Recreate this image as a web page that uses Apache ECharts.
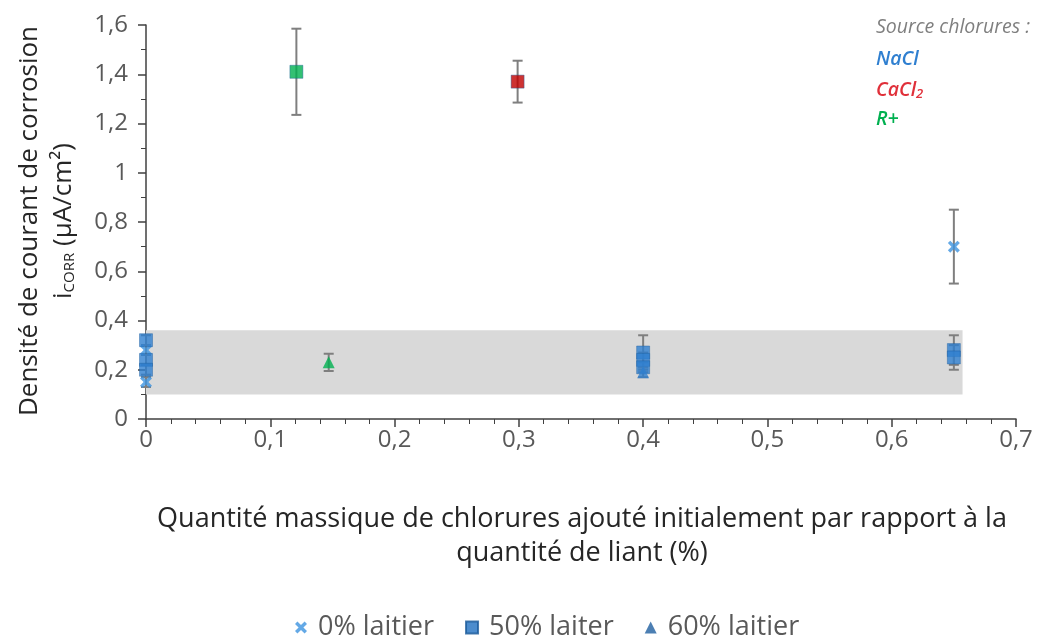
<!DOCTYPE html>
<html>
<head>
<meta charset="utf-8">
<script src="https://cdn.jsdelivr.net/npm/echarts@6/dist/echarts.min.js"></script>
<style>
  html, body { margin: 0; padding: 0; background: #fff; }
  #chart { width: 1037px; height: 644px; }
</style>
</head>
<body>
<div id="chart"></div>
<script>
// 0% laitier (cross)
const slag0X = [0, 0, 0.65];
const slag0Y = [0.28, 0.15, 0.70];
const slag0Err = [0.02, 0.02, 0.15];
const slag0Src = ['NaCl', 'NaCl', 'NaCl'];

// 50% laiter (square)
const slag50X = [0, 0, 0, 0.121, 0.299, 0.4, 0.4, 0.4, 0.65, 0.65];
const slag50Y = [0.32, 0.24, 0.20, 1.41, 1.37, 0.27, 0.24, 0.21, 0.28, 0.25];
const slag50Err = [0.02, 0.02, 0.02, 0.175, 0.085, 0.07, 0.03, 0.02, 0.06, 0.05];
const slag50Src = ['NaCl', 'NaCl', 'NaCl', 'R+', 'CaCl2', 'NaCl', 'NaCl', 'NaCl', 'NaCl', 'NaCl'];

// 60% laitier (triangle)
const slag60X = [0.147, 0.4];
const slag60Y = [0.23, 0.19];
const slag60Err = [0.035, 0.02];
const slag60Src = ['R+', 'NaCl'];

// shaded zone
const bandX = [0, 0.657];
const bandY = [0.1, 0.36];

const xTicks = [0, 0.1, 0.2, 0.3, 0.4, 0.5, 0.6, 0.7];
const yTicks = [0, 0.2, 0.4, 0.6, 0.8, 1, 1.2, 1.4, 1.6];

const srcColor = {NaCl: '#2f7fd0', CaCl2: '#c00000', 'R+': '#00b050'};
const crossPath = 'path://M2,0 L5,3 L8,0 L10,2 L7,5 L10,8 L8,10 L5,7 L2,10 L0,8 L3,5 L0,2 Z';
const fontFamily = '"Open Sans", sans-serif';

function points(xs, ys, srcs, lightBlue) {
    return xs.map((x, i) => ({
        value: [x, ys[i]],
        itemStyle: {
            color: srcs[i] === 'NaCl' && lightBlue ? '#3d93e0' : srcColor[srcs[i]],
        },
    }));
}

function errors(xs, ys, errs) {
    return xs.map((x, i) => [x, ys[i] - errs[i], ys[i] + errs[i]]);
}

const errData = [].concat(
    errors(slag0X, slag0Y, slag0Err),
    errors(slag50X, slag50Y, slag50Err),
    errors(slag60X, slag60Y, slag60Err)
);

function renderError(params, api) {
    const x = api.value(0);
    const top = api.coord([x, api.value(2)]);
    const bot = api.coord([x, api.value(1)]);
    const w = 5;
    const style = {stroke: '#7f7f7f', lineWidth: 2};
    return {
        type: 'group',
        children: [
            {type: 'line', shape: {x1: top[0], y1: top[1], x2: bot[0], y2: bot[1]}, style: style},
            {type: 'line', shape: {x1: top[0] - w, y1: top[1], x2: top[0] + w, y2: top[1]}, style: style},
            {type: 'line', shape: {x1: bot[0] - w, y1: bot[1], x2: bot[0] + w, y2: bot[1]}, style: style},
        ],
    };
}

const fmt = (v) => String(Math.round(v * 10) / 10).replace('.', ',');

const chart = echarts.init(document.getElementById('chart'));
chart.setOption({
    animation: false,
    textStyle: {fontFamily: fontFamily},
    grid: {left: 146, right: 21, top: 25, bottom: 225},
    xAxis: {
        type: 'value',
        min: xTicks[0],
        max: xTicks[xTicks.length - 1],
        interval: 0.1,
        axisLine: {lineStyle: {color: '#404040', width: 1.5}},
        axisTick: {length: 8, lineStyle: {color: '#404040', width: 1.5}},
        minorTick: {show: true, splitNumber: 5, length: 5, lineStyle: {color: '#404040'}},
        splitLine: {show: false},
        axisLabel: {color: '#595959', fontSize: 24, margin: 9, formatter: fmt},
    },
    yAxis: {
        type: 'value',
        min: yTicks[0],
        max: yTicks[yTicks.length - 1],
        interval: 0.2,
        axisLine: {show: true, lineStyle: {color: '#404040', width: 1.5}},
        axisTick: {show: true, length: 8, lineStyle: {color: '#404040', width: 1.5}},
        minorTick: {show: true, splitNumber: 2, length: 5, lineStyle: {color: '#404040'}},
        splitLine: {show: false},
        axisLabel: {color: '#595959', fontSize: 24, margin: 18, formatter: fmt},
    },
    legend: {
        bottom: -2,
        left: 290,
        itemGap: 31,
        itemWidth: 12,
        itemHeight: 12,
        textStyle: {color: '#595959', fontSize: 27, padding: [0, 0, 0, 6]},
        data: ['0% laitier', '50% laiter', '60% laitier'],
    },
    graphic: [
        {
            type: 'text',
            x: 30, y: 221, rotation: Math.PI / 2,
            style: {
                text: 'Densité de courant de corrosion',
                fill: '#262626', font: '26px ' + fontFamily,
                align: 'center', verticalAlign: 'middle',
            },
        },
        {
            type: 'text',
            x: 64, y: 221, rotation: Math.PI / 2,
            style: {
                text: '{b|i}{s|CORR}{b| (µA/cm²)}',
                fill: '#262626',
                align: 'center', verticalAlign: 'middle',
                rich: {
                    b: {fontSize: 26, fontFamily: fontFamily, fill: '#262626', lineHeight: 32},
                    s: {fontSize: 15, fontFamily: fontFamily, fill: '#262626', lineHeight: 32, padding: [12, 0, 0, 0]},
                },
            },
        },
        {
            type: 'text',
            x: 582, y: 502,
            style: {
                text: 'Quantité massique de chlorures ajouté initialement par rapport à la\nquantité de liant (%)',
                fill: '#262626', font: '27px ' + fontFamily,
                align: 'center', lineHeight: 34,
            },
        },
        {
            type: 'text', x: 876, y: 27,
            style: {text: 'Source chlorures :', fill: '#7f7f7f', font: 'italic 19.5px ' + fontFamily, verticalAlign: 'middle'},
        },
        {
            type: 'text', x: 876, y: 59,
            style: {text: 'NaCl', fill: '#2f7fd0', font: 'italic 600 19.5px ' + fontFamily, verticalAlign: 'middle'},
        },
        {
            type: 'text', x: 876, y: 90,
            style: {
                text: '{a|CaCl}{s|2}',
                verticalAlign: 'middle',
                rich: {
                    a: {fill: '#e0303a', fontStyle: 'italic', fontWeight: 600, fontSize: 19.5, fontFamily: fontFamily, lineHeight: 26},
                    s: {fill: '#e0303a', fontStyle: 'italic', fontWeight: 600, fontSize: 13, fontFamily: fontFamily, lineHeight: 26, padding: [9, 0, 0, 0]},
                },
            },
        },
        {
            type: 'text', x: 876, y: 119,
            style: {text: 'R+', fill: '#00b050', font: 'italic 600 19.5px ' + fontFamily, verticalAlign: 'middle'},
        },
    ],
    series: [
        {
            type: 'custom',
            name: 'errors',
            renderItem: renderError,
            data: errData,
            z: 3,
            encode: {x: 0, y: [1, 2]},
            silent: true,
            markArea: {
                silent: true,
                itemStyle: {color: '#d9d9d9'},
                data: [[{coord: [bandX[0], bandY[0]]}, {coord: [bandX[1], bandY[1]]}]],
            },
        },
        {
            type: 'scatter',
            name: '0% laitier',
            symbol: crossPath,
            symbolSize: 12,
            itemStyle: {color: '#3d93e0'},
            z: 4,
            data: points(slag0X, slag0Y, slag0Src, true),
        },
        {
            type: 'scatter',
            name: '50% laiter',
            symbol: 'rect',
            symbolSize: 13,
            itemStyle: {color: '#1f6fc0', borderColor: '#1a5a9a', borderWidth: 0.5},
            z: 5,
            data: points(slag50X, slag50Y, slag50Src, false),
        },
        {
            type: 'scatter',
            name: '60% laitier',
            symbol: 'triangle',
            symbolSize: 12,
            itemStyle: {color: '#1f5fa0'},
            z: 6,
            data: points(slag60X, slag60Y, slag60Src, false),
        },
    ],
});
</script>
</body>
</html>
